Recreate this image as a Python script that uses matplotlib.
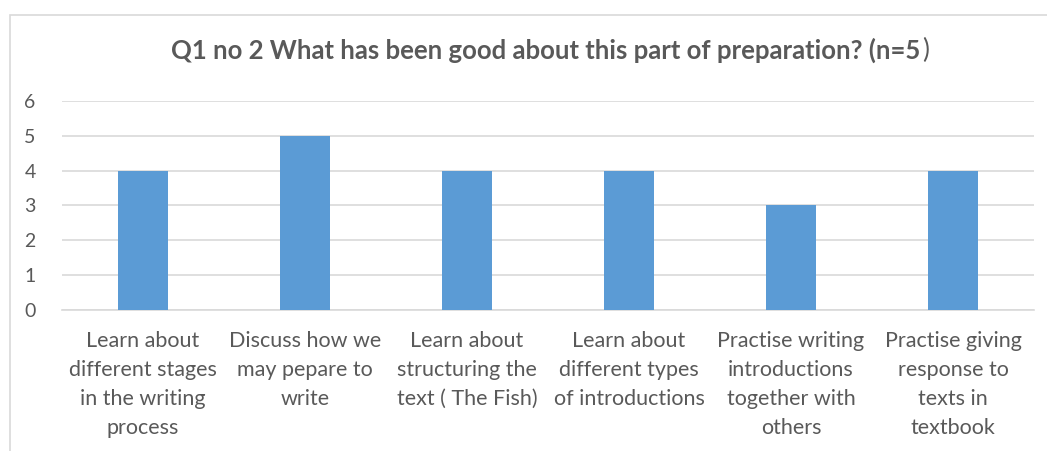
import matplotlib.pyplot as plt
from matplotlib.patches import Rectangle

categories = [
    "Learn about\ndifferent stages\nin the writing\nprocess",
    "Discuss how we\nmay pepare to\nwrite",
    "Learn about\nstructuring the\ntext ( The Fish)",
    "Learn about\ndifferent types\nof introductions",
    "Practise writing\nintroductions\ntogether with\nothers",
    "Practise giving\nresponse to\ntexts in\ntextbook",
]
values = [4, 5, 4, 4, 3, 4]
yticks = [0, 1, 2, 3, 4, 5, 6]
title_bold = "Q1 no 2 What has been good about this part of preparation? (n=5"

TEXT = "#595959"
BAR = "#5B9BD5"
GRID = "#D9D9D9"

plt.rcParams["font.family"] = ["Lato", "DejaVu Sans"]

W, H = 1047, 451
fig = plt.figure(figsize=(W / 100, H / 100), dpi=100)

# chart border (Excel-style frame, cropped at right/bottom)
fig.patches.append(Rectangle((10 / W, -0.1), 1.2, 1 - 15 / H + 0.1,
                             transform=fig.transFigure, fill=False,
                             edgecolor=GRID, linewidth=1.2))

ax = fig.add_axes([62 / W, 1 - 310 / H, (1034 - 62) / W, (310 - 101) / H])
x = range(len(values))
ax.bar(x, values, width=0.31, color=BAR, zorder=3)
ax.set_xlim(-0.5, len(values) - 0.5)
ax.set_ylim(0, 6)
ax.set_yticks(yticks)
ax.yaxis.grid(True, color=GRID, linewidth=1.2, zorder=0)
for s in ["top", "right", "left"]:
    ax.spines[s].set_visible(False)
ax.spines["bottom"].set_color(GRID)
ax.spines["bottom"].set_linewidth(1.2)
ax.set_xticks(list(x))
ax.set_xticklabels(categories, fontsize=15.5, color=TEXT, linespacing=1.56)
ax.tick_params(axis="x", length=0, pad=15)
ax.tick_params(axis="y", length=0, pad=19, labelsize=14, labelcolor=TEXT)

t = fig.text(546 / W, 1 - 50 / H, title_bold, fontsize=18.5, fontweight="bold",
             color=TEXT, ha="center", va="center")
ax.annotate(")", xy=(1, 0), xycoords=t, xytext=(1, 0), textcoords="offset points",
            fontsize=18.5, color=TEXT, ha="left", va="bottom")

fig.savefig("out.png", dpi=100)
